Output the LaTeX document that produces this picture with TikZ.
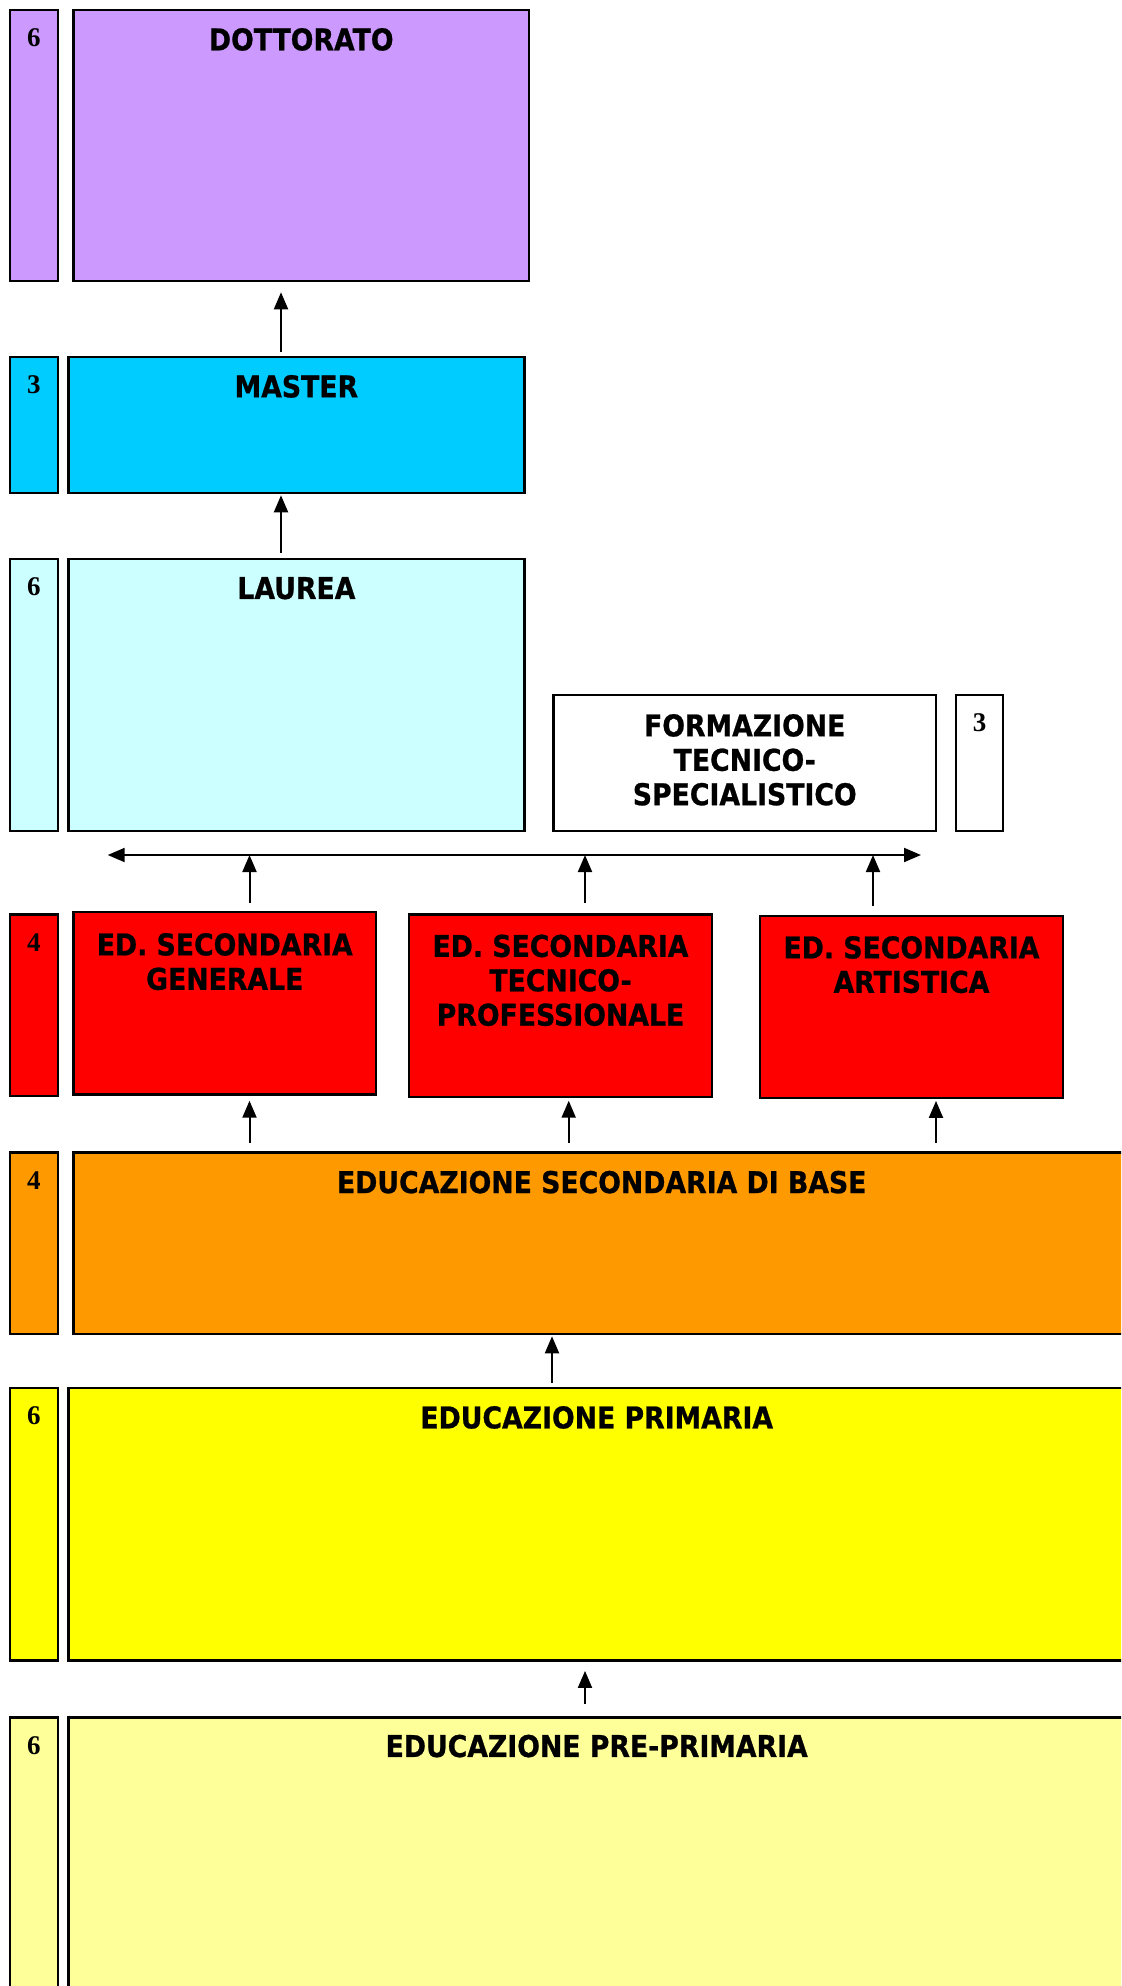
\documentclass[tikz,border=0pt]{standalone}
\usepackage{fontspec}
\usepackage{xcolor}
\usetikzlibrary{arrows.meta,fit,positioning}
\newfontfamily\titlefont{DejaVu Sans}[FakeStretch=0.89, BoldFeatures={FakeBold=0.8}]
\newfontfamily\yearfont{Liberation Serif}
\definecolor{dottcol}{HTML}{CC99FF}
\definecolor{mastcol}{HTML}{00CCFF}
\definecolor{laurcol}{HTML}{CCFFFF}
\definecolor{seccol}{HTML}{FF0000}
\definecolor{basecol}{HTML}{FF9900}
\definecolor{primcol}{HTML}{FFFF00}
\definecolor{precol}{HTML}{FFFF99}

\begin{document}
\begin{tikzpicture}[x=0.5pt, y=-0.5pt, line join=miter,
  box/.style={draw, line width=1.3pt, inner sep=0pt},
  ttl/.style={font=\titlefont\bfseries\fontsize{15}{17.2}\selectfont, align=center, anchor=north, inner sep=0pt},
  yr/.style={font=\yearfont\bfseries\fontsize{13.5}{15}\selectfont, anchor=north, inner sep=0pt},
  up/.style={-{Triangle[width=7pt,length=8.5pt]}, line width=1pt}]
  \useasboundingbox (0,0) rectangle (1121,1986);
  \clip (0,0) rectangle (1121,1986);
  % year columns
  \foreach \yt/\yb/\n/\c [count=\i] in {10/281/6/dottcol, 357/493/3/mastcol, 559/831/6/laurcol,
      914.5/1096/4/seccol, 1152.7/1334/4/basecol, 1388/1660.6/6/primcol, 1717.6/2000/6/precol} {
    \node[box, fill=\c, fit={(10,\yt) (58,\yb)}] (yr\i) {};
    \node[yr] at ([yshift=-10pt]yr\i.north) {\n};
  }
  % levels
  \node[box, fill=dottcol, fit={(73.5,10) (529,281)}] (dott) {};
  \node[box, fill=mastcol, fit={(68.4,357) (524.4,493)}] (mast) {};
  \node[box, fill=laurcol, fit={(68.4,559) (524.4,831)}] (laur) {};
  \node[box, fill=white, fit={(553.5,695) (936,831)}] (its) {};
  \node[box, fill=white, fit={(956,695) (1003,831)}] (itsyr) {};
  \node[yr] at ([yshift=-10pt]itsyr.north) {3};
  \node[box, fill=seccol, fit={(73.5,912) (376,1094.4)}] (edgen) {};
  \node[box, fill=seccol, fit={(409,914.5) (712,1097)}] (edtec) {};
  \node[box, fill=seccol, fit={(760,916) (1063,1098)}] (edart) {};
  \node[box, fill=basecol, fit={(73.5,1152.7) (1130,1334)}] (base) {};
  \node[box, fill=primcol, fit={(68.4,1388) (1125,1660.6)}] (prim) {};
  \node[box, fill=precol, fit={(68.4,1717.6) (1125,2000)}] (pre) {};
  % titles
  \node[ttl] at ([yshift=-9.5pt]dott.north) {DOTTORATO};
  \node[ttl] at ([yshift=-9.5pt]mast.north) {MASTER};
  \node[ttl] at ([yshift=-9.5pt]laur.north) {LAUREA};
  \node[ttl] at ([yshift=-10pt]its.north) {FORMAZIONE\\TECNICO-\\SPECIALISTICO};
  \node[ttl] at ([yshift=-11pt]edgen.north) {ED. SECONDARIA\\GENERALE};
  \node[ttl] at ([yshift=-10.5pt]edtec.north) {ED. SECONDARIA\\TECNICO-\\PROFESSIONALE};
  \node[ttl] at ([yshift=-10.5pt]edart.north) {ED. SECONDARIA\\ARTISTICA};
  \node[ttl] at ([yshift=-9.5pt]base.north) {EDUCAZIONE SECONDARIA DI BASE};
  \node[ttl] at ([yshift=-9.5pt]prim.north) {EDUCAZIONE PRIMARIA};
  \node[ttl] at ([yshift=-9pt]pre.north) {EDUCAZIONE PRE-PRIMARIA};
  % arrows
  \coordinate (a1) at (281,352);
  \coordinate (a2) at (281,553);
  \draw[up, shorten >=5pt] (a1) -- (a1 |- dott.south);
  \draw[up, shorten >=0.5pt] (a2) -- (a2 |- mast.south);
  \coordinate (busL) at (107.7,855);
  \coordinate (busR) at (921,855);
  \draw[up, {Triangle[width=7pt,length=8.5pt]}-{Triangle[width=7pt,length=8.5pt]}] (busL) -- (busR);
  \foreach \x/\y [count=\i] in {249.5/903, 585/903, 873/906} {
    \coordinate (b\i) at (\x,\y);
    \draw[up] (b\i) -- (b\i |- busL);
  }
  \coordinate (c1) at (249.5,1142.6);
  \coordinate (c2) at (568.7,1142.6);
  \coordinate (c3) at (936,1142.6);
  \draw[up, shorten >=2.5pt] (c1) -- (c1 |- edgen.south);
  \draw[up, shorten >=1.2pt] (c2) -- (c2 |- edtec.south);
  \draw[up, shorten >=0.8pt] (c3) -- (c3 |- edart.south);
  \coordinate (d1) at (552,1383);
  \coordinate (e1) at (585,1703.7);
  \draw[up, shorten >=0.5pt] (d1) -- (d1 |- base.south);
  \draw[up, shorten >=4.5pt] (e1) -- (e1 |- prim.south);
\end{tikzpicture}
\end{document}
